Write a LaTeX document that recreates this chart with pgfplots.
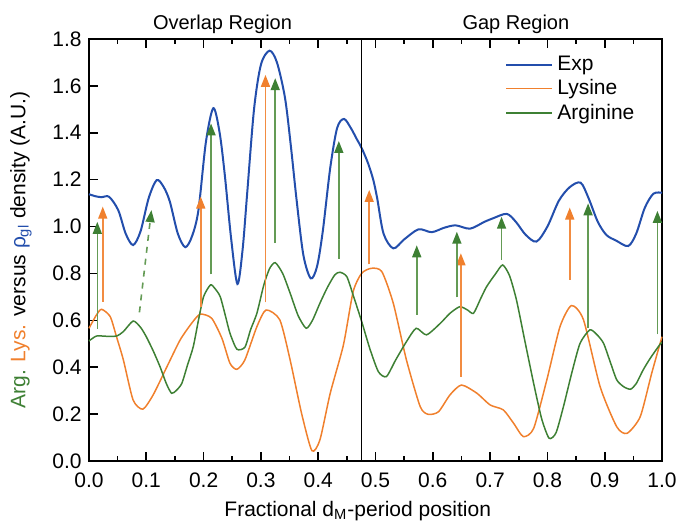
\documentclass[border=0pt]{standalone}
\usepackage{pgfplots}
\pgfplotsset{compat=1.18}
\usepackage{fontspec}
\setmainfont{Liberation Sans}
\usetikzlibrary{arrows.meta}

\definecolor{expc}{RGB}{35,78,172}
\definecolor{lysc}{RGB}{240,128,45}
\definecolor{argc}{RGB}{62,128,52}
\definecolor{lysarr}{RGB}{242,140,65}
\definecolor{argarr}{RGB}{100,155,85}

\begin{document}
\fontsize{10.5}{12.6}\selectfont
\begin{tikzpicture}
\begin{axis}[
    scale only axis,
    width=286.5pt, height=211pt,
    xmin=0, xmax=1, ymin=0, ymax=1.8,
    xtick={0,0.1,...,1.0},
    ytick={0,0.2,...,1.8},
    minor x tick num=1,
    xtick pos=both, ytick pos=left,
    tick align=inside,
    major tick length=4.5pt, minor tick length=2.5pt,
    axis line style={line width=1pt},
    every tick/.style={black, line width=0.8pt},
    /pgf/number format/fixed,
    /pgf/number format/fixed zerofill,
    /pgf/number format/precision=1,
    /pgf/number format/assume math mode=true,
    xticklabel style={yshift=-2pt},
    xlabel={Fractional d\textsubscript{M}-period position},
    ylabel={\textcolor{argc}{Arg.} \textcolor{lysc}{Lys.} versus \textcolor{expc}{ρ\textsubscript{gl}} density (A.U.)},
    xlabel style={at={(axis description cs:0.469,-0.118)}, anchor=center},
    ylabel style={at={(axis description cs:-0.119,0.5)}, anchor=center},
    legend style={at={(0.97,0.98)}, anchor=north east, draw=none, fill=none,
        row sep=-1pt, font=\fontsize{10.5}{12.6}\selectfont},
    legend cell align=left,
    legend image code/.code={\draw[#1] (0pt,0pt) -- (23pt,0pt);},
    clip=false,
]
\addplot[expc, line width=1pt, smooth, tension=0.5] coordinates {
(0,1.138) (0.01,1.13) (0.022,1.125) (0.035,1.127) (0.051,1.07) (0.064,0.97)
(0.077,0.921) (0.09,0.98) (0.104,1.12) (0.118,1.198) (0.13,1.17) (0.141,1.107)
(0.155,0.97) (0.168,0.912) (0.18,0.96) (0.191,1.07) (0.204,1.36) (0.217,1.505)
(0.228,1.40) (0.237,1.22) (0.248,0.95) (0.259,0.755) (0.268,0.90) (0.276,1.14)
(0.288,1.50) (0.300,1.69) (0.315,1.75) (0.328,1.70) (0.342,1.55) (0.352,1.35)
(0.362,1.12) (0.374,0.88) (0.387,0.779) (0.398,0.83) (0.408,0.98) (0.421,1.25)
(0.433,1.42) (0.445,1.459) (0.457,1.42) (0.468,1.37) (0.476,1.334) (0.487,1.27)
(0.496,1.20) (0.503,1.12) (0.514,0.97) (0.531,0.907) (0.55,0.945) (0.575,0.988)
(0.598,0.976) (0.62,0.995) (0.640,1.005) (0.665,0.991) (0.69,1.02) (0.705,1.035)
(0.729,1.054) (0.745,1.02) (0.762,0.965) (0.781,0.936) (0.80,1.0) (0.82,1.11)
(0.839,1.168) (0.858,1.187) (0.872,1.12) (0.888,1.02) (0.903,0.964) (0.92,0.94)
(0.941,0.917) (0.955,0.97) (0.97,1.08) (0.985,1.14) (1.0,1.144)
};
\addplot[lysc, line width=0.75pt, smooth, tension=0.4] coordinates {
(0,0.566) (0.013,0.623) (0.022,0.647) (0.037,0.616) (0.048,0.53) (0.06,0.431)
(0.077,0.260) (0.094,0.221) (0.112,0.282) (0.136,0.402) (0.159,0.516) (0.179,0.587)
(0.194,0.626) (0.214,0.609) (0.232,0.523) (0.246,0.417) (0.258,0.391) (0.272,0.431)
(0.293,0.573) (0.309,0.644) (0.333,0.602) (0.351,0.431) (0.371,0.203) (0.389,0.044)
(0.403,0.090) (0.421,0.289) (0.444,0.495) (0.461,0.722) (0.476,0.801) (0.493,0.822)
(0.511,0.808) (0.531,0.673) (0.554,0.431) (0.578,0.232) (0.592,0.199) (0.61,0.21)
(0.63,0.282) (0.650,0.324) (0.677,0.289) (0.70,0.239) (0.723,0.218) (0.741,0.161)
(0.758,0.104) (0.776,0.139) (0.799,0.346) (0.822,0.573) (0.842,0.663) (0.863,0.602)
(0.892,0.317) (0.921,0.146) (0.939,0.118) (0.962,0.189) (0.982,0.374) (1.0,0.53)
};
\addplot[argc, line width=0.75pt, smooth, tension=0.4] coordinates {
(0,0.512) (0.013,0.533) (0.03,0.532) (0.048,0.533) (0.06,0.552) (0.077,0.597)
(0.09,0.57) (0.1,0.53) (0.112,0.47) (0.124,0.402) (0.135,0.33) (0.144,0.289)
(0.152,0.30) (0.162,0.331) (0.172,0.41) (0.182,0.488) (0.191,0.6) (0.2,0.701)
(0.212,0.751) (0.22,0.735) (0.229,0.701) (0.238,0.62) (0.246,0.545) (0.258,0.477)
(0.272,0.485) (0.282,0.56) (0.293,0.630) (0.305,0.75) (0.315,0.82) (0.325,0.846)
(0.338,0.80) (0.351,0.716) (0.365,0.62) (0.379,0.566) (0.39,0.60) (0.403,0.673)
(0.416,0.74) (0.429,0.794) (0.438,0.805) (0.45,0.786) (0.462,0.70) (0.476,0.594)
(0.49,0.48) (0.505,0.381) (0.519,0.36) (0.535,0.43) (0.554,0.509) (0.571,0.566)
(0.589,0.538) (0.613,0.587) (0.63,0.63) (0.647,0.658) (0.66,0.645) (0.671,0.630)
(0.683,0.69) (0.694,0.744) (0.71,0.80) (0.722,0.836) (0.734,0.79) (0.746,0.687)
(0.76,0.52) (0.776,0.331) (0.79,0.18) (0.803,0.097) (0.815,0.12) (0.828,0.232)
(0.843,0.38) (0.857,0.502) (0.874,0.559) (0.886,0.54) (0.898,0.502) (0.91,0.42)
(0.921,0.346) (0.933,0.317) (0.945,0.306) (0.955,0.33) (0.967,0.388) (0.98,0.44)
(0.997,0.499) (1.0,0.505)
};
\legend{Exp,Lysine,Arginine}

% divider between overlap and gap
\addplot[black, line width=0.7pt, forget plot] coordinates {(0.476,0) (0.476,1.8)};

% arrow styles
\pgfplotsset{lysarrow/.style={lysarr, line width=0.8pt, forget plot,
    -{Triangle[width=4.5pt,length=6pt,color=lysc]}},
  argarrow/.style={argarr, line width=0.8pt, forget plot,
    -{Triangle[width=4.5pt,length=6pt,color=argc]}}}
% lysine arrows
\addplot[lysarrow] coordinates {(0.024,0.68) (0.024,1.085)};
\addplot[lysarrow] coordinates {(0.195,0.658) (0.195,1.128)};
\addplot[lysarrow] coordinates {(0.308,0.677) (0.308,1.647)};
\addplot[lysarrow] coordinates {(0.489,0.839) (0.489,1.156)};
\addplot[lysarrow] coordinates {(0.649,0.36) (0.649,0.886)};
\addplot[lysarrow] coordinates {(0.839,0.772) (0.839,1.081)};

% arginine arrows
\addplot[argarrow] coordinates {(0.0145,0.565) (0.0145,1.02)};
\addplot[argarrow, dashed] coordinates {(0.088,0.634) (0.109,1.07)};
\addplot[argarrow] coordinates {(0.213,0.796) (0.213,1.44)};
\addplot[argarrow] coordinates {(0.325,0.929) (0.325,1.633)};
\addplot[argarrow] coordinates {(0.436,0.862) (0.436,1.365)};
\addplot[argarrow] coordinates {(0.572,0.623) (0.572,0.92)};
\addplot[argarrow] coordinates {(0.642,0.698) (0.642,0.978)};
\addplot[argarrow] coordinates {(0.72,0.858) (0.72,1.042)};
\addplot[argarrow] coordinates {(0.871,0.569) (0.871,1.099)};
\addplot[argarrow] coordinates {(0.992,0.54) (0.992,1.067)};

\node[anchor=base, font=\fontsize{10}{12}\selectfont] at ([yshift=4.5pt]rel axis cs:0.233,1) {Overlap Region};
\node[anchor=base, font=\fontsize{10}{12}\selectfont] at ([yshift=4.5pt]rel axis cs:0.745,1) {Gap Region};
\end{axis}
\pgfresetboundingbox
\path[use as bounding box] ([xshift=-44.5pt,yshift=-30.5pt]current axis.south west)
    rectangle ([xshift=9pt,yshift=19.5pt]current axis.north east);
\end{tikzpicture}
\end{document}
